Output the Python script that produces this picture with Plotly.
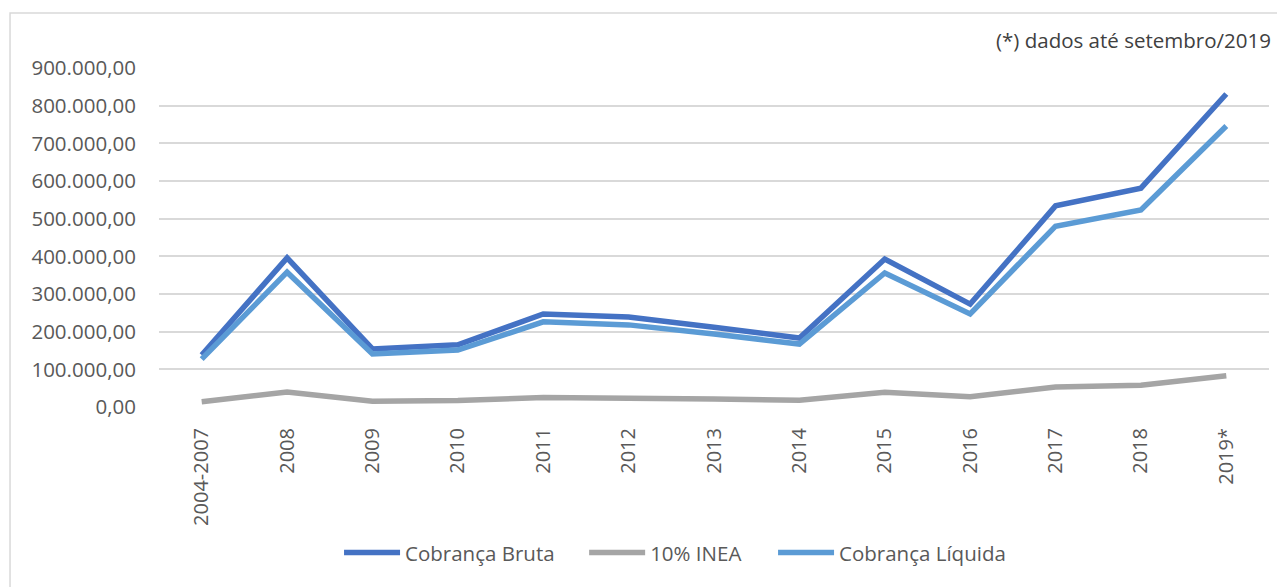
import plotly.graph_objects as go

categories = ["2004-2007", "2008", "2009", "2010", "2011", "2012", "2013",
              "2014", "2015", "2016", "2017", "2018", "2019*"]
cobranca_bruta = [138000, 396000, 154000, 165000, 247000, 239000, 212000,
                  183000, 393000, 273000, 534000, 581000, 831000]
inea_10 = [14000, 40000, 15000, 17000, 25000, 24000, 21000,
           18000, 39000, 27000, 53000, 58000, 83000]
cobranca_liquida = [127000, 358000, 141000, 151000, 226000, 218000, 194000,
                    167000, 356000, 247000, 480000, 523000, 746000]
y_ticks = [0, 100000, 200000, 300000, 400000, 500000, 600000, 700000, 800000, 900000]

FONT = "Open Sans"
fig = go.Figure()
series = [("Cobrança Bruta", cobranca_bruta, "#4472C4", "legend", 0.1622),
          ("10% INEA", inea_10, "#A5A5A5", "legend2", 0.3830),
          ("Cobrança Líquida", cobranca_liquida, "#5B9BD5", "legend3", 0.5532)]
legends = {}
for name, vals, col, lg, lx in series:
    fig.add_trace(go.Scatter(x=categories, y=vals, mode="lines", name=name,
                             legend=lg, line=dict(color=col, width=5.5)))
    legends[lg] = dict(orientation="h", x=lx, xanchor="left", y=-0.43, yanchor="middle",
                       font=dict(size=20.5, color="#595959", family=FONT),
                       itemwidth=56, bgcolor="rgba(0,0,0,0)")

fig.update_layout(
    width=1277, height=579,
    margin=dict(l=151, r=16, t=60, b=180, autoexpand=False),
    paper_bgcolor="white", plot_bgcolor="white",
    separators=",.",
    font=dict(family=FONT, color="#595959", size=18),
    showlegend=True,
    **legends,
    xaxis=dict(type="category", range=[-0.5, len(categories) - 0.5], automargin=False,
               tickangle=-90, showgrid=False, showline=False,
               ticks="outside", ticklen=12, tickcolor="rgba(0,0,0,0)",
               tickfont=dict(size=20, color="#595959")),
    yaxis=dict(range=[0, 900000], tickvals=y_ticks, tickformat=",.2f", automargin=False,
               showgrid=True, gridcolor="#D9D9D9", gridwidth=1.5,
               zeroline=False, showline=False,
               ticks="outside", ticklen=18, tickcolor="rgba(0,0,0,0)",
               tickfont=dict(size=20.5, color="#595959")),
    annotations=[dict(text="(*) dados até setembro/2019", xref="paper", yref="paper",
                      x=1.0035, y=1.0826, xanchor="right", yanchor="middle",
                      showarrow=False, font=dict(size=20.5, color="#404040", family=FONT))],
    shapes=[dict(type="rect", xref="paper", yref="paper",
                 x0=-0.1342, x1=1.0135, y0=-0.6, y1=1.1622,
                 line=dict(color="#D9D9D9", width=1.5), layer="below")],
)
fig.write_html("out.html")
